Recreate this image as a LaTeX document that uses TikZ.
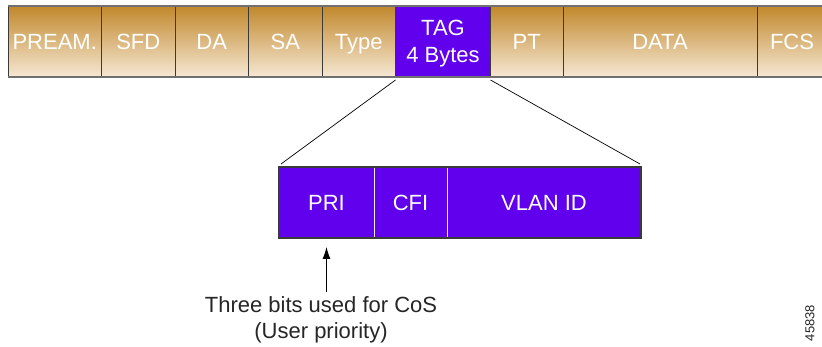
\documentclass[tikz,border=0pt]{standalone}
\usepackage{fontspec}
\setmainfont{Liberation Sans}
\usetikzlibrary{calc,arrows.meta}
\definecolor{gold}{HTML}{C1882C}
\definecolor{cream}{HTML}{F6E8D4}
\definecolor{vlan}{HTML}{6000EC}
\definecolor{edge}{HTML}{3A3A3A}
\definecolor{rim}{HTML}{707070}
\begin{document}
\begin{tikzpicture}[x=1pt,y=-1pt,
  cell/.style={rectangle, anchor=north west, inner sep=0pt, outer sep=0pt, minimum height=71pt,
    draw=edge, line width=0.9pt, text=white, font=\fontsize{22}{27}\selectfont, align=center},
  goldcell/.style={cell, top color=gold, middle color=gold, bottom color=cream,
    text height=15.8pt, text depth=0pt},
  tagcell/.style={cell, fill=vlan, text depth=0pt},
  subcell/.style={cell, fill=vlan, draw=white!85!gray, line width=0.8pt},
  link/.style={draw=black, line width=0.7pt},
  arr/.style={draw=black, line width=0.9pt, -{Latex[length=12pt,width=8pt]}},
  note/.style={align=center, text=black!85, font=\fontsize{22}{26}\selectfont, inner sep=0pt},
  figid/.style={rotate=90, text=black!85, font=\fontsize{13}{15}\selectfont, inner sep=0pt}]
\useasboundingbox (0,0) rectangle (822,347);
\fill[white] (0,0) rectangle (822,347);
% top frame
\node[goldcell, minimum width=93.5pt] (pream) at (8,6) {PREAM.};
\node[goldcell, minimum width=73.5pt] (sfd) at (pream.north east) {SFD};
\node[goldcell, minimum width=73.5pt] (da) at (sfd.north east) {DA};
\node[goldcell, minimum width=73.5pt] (sa) at (da.north east) {SA};
\node[goldcell, minimum width=73.5pt] (type) at (sa.north east) {Type};
\node[tagcell, minimum width=95pt] (tag) at (type.north east) {TAG\\4 Bytes};
\node[goldcell, minimum width=72.5pt] (pt) at (tag.north east) {PT};
\node[goldcell, minimum width=194pt] (data) at (pt.north east) {DATA};
\node[goldcell, minimum width=70pt] (fcs) at (data.north east) {FCS};
\draw[rim, line width=1.3pt] (pream.north west) -- (fcs.north east);
\draw[rim, line width=2pt] (pream.south west) -- (fcs.south east);
% tag detail
\node[subcell, minimum width=95pt] (pri) at (279,167) {PRI};
\node[subcell, minimum width=73pt] (cfi) at (pri.north east) {CFI};
\node[subcell, minimum width=194pt] (vid) at (cfi.north east) {VLAN ID};
\draw[edge, line width=1.2pt] (pri.north west) rectangle (vid.south east);
% expansion lines
\draw[link] ($(tag.south west)+(0,3)$) -- ($(pri.north west)+(2,-3)$);
\draw[link] ($(tag.south east)+(0,3)$) -- ($(vid.north east)+(-1,-3)$);
% note
\node[note] (cos) at (321,320) {Three bits used for CoS\\(User priority)};
\draw[arr] ($(cos.north -| pri.south)+(0,-5)$) -- ($(pri.south)+(0,9)$);
\node[figid] (fid) at (810,323) {45838};
\end{tikzpicture}
\end{document}
